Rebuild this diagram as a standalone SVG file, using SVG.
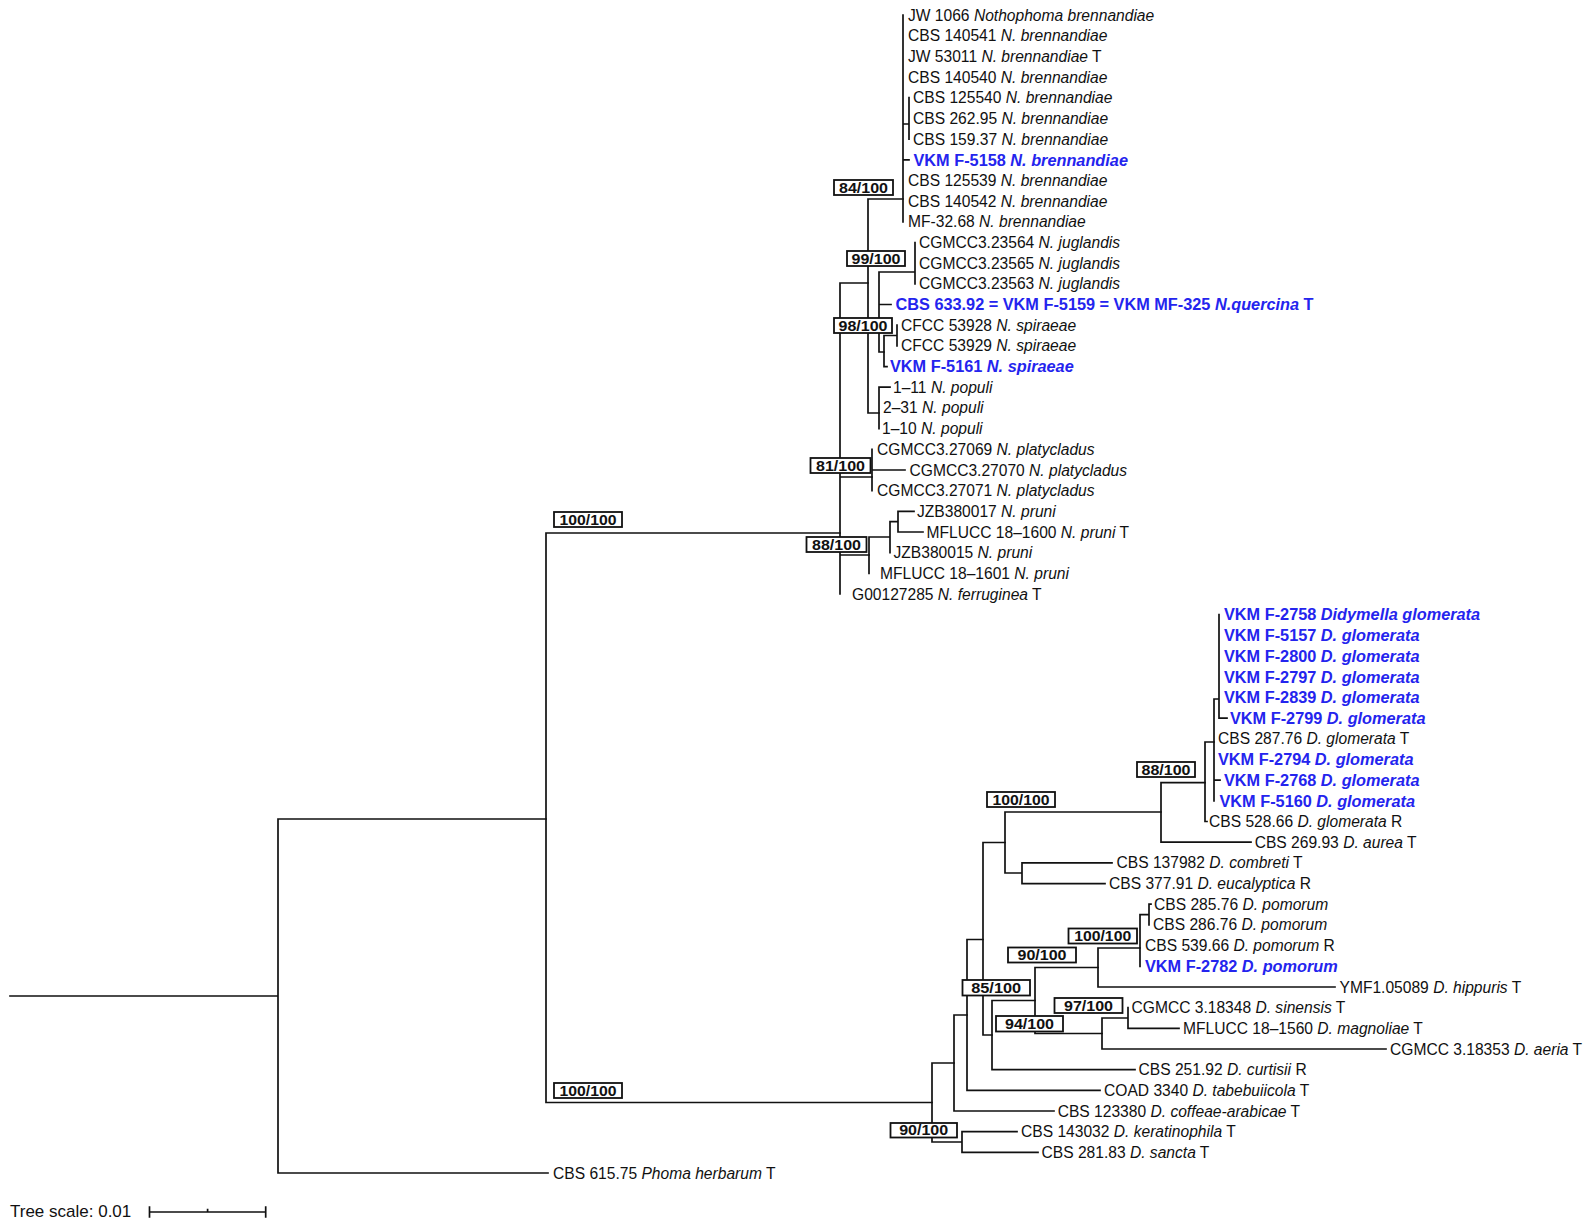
<svg xmlns="http://www.w3.org/2000/svg" width="1584" height="1227" viewBox="0 0 1584 1227">
<style>
.e{stroke:#111;stroke-width:1.7;fill:none;stroke-linecap:square}
.t{font-family:"Liberation Sans",Arial,sans-serif;font-size:15.6px;fill:#111}
.b{font-family:"Liberation Sans",Arial,sans-serif;font-size:16.3px;font-weight:bold;fill:#2424ee}
.i{font-style:italic}
.bx rect{fill:#fff;stroke:#111;stroke-width:1.8}
.bx text{font-family:"Liberation Sans",Arial,sans-serif;font-size:14px;font-weight:bold;fill:#111;text-anchor:middle}
.sc{font-family:"Liberation Sans",Arial,sans-serif;font-size:17px;fill:#111}
</style>
<rect width="1584" height="1227" fill="#fff"/>
<g id="connectors">
<path class="e" d="M10 996H278M278 819V1173M278 819H546M278 1173H548"/>
<path class="e" d="M546 533V1102.5M546 533H840M546 1102.5H932"/>
<path class="e" d="M840 283V594M840 283H868M840 477H872M840 555H869"/>
<path class="e" d="M868 199V413M868 199H903M868 326H879M868 413H879"/>
<path class="e" d="M903 15V221.8M903 124H909M909 97.7V139.1M903 159.8H909"/>
<path class="e" d="M879 272V352M879 272H915M879 304.5H891M879 352H884M915 242.5V283.8"/>
<path class="e" d="M884 335.5V366.6M884 335.5H897M897 325.2V345.9M884 366.6H887"/>
<path class="e" d="M879 387.2V428.6M879 387.2H890"/>
<path class="e" d="M872 449.3V490.6M872 470H905"/>
<path class="e" d="M869 537V573.4M869 537H890M890 521.6V552.7M890 521.6H898M898 511.3V532M898 511.3H914M898 532H923"/>
<path class="e" d="M932 1063V1142M932 1063H954M932 1142H962M962 1131.7V1152.4M962 1131.7H1017M962 1152.4H1038"/>
<path class="e" d="M954 1015V1111M954 1015H967M954 1111H1054"/>
<path class="e" d="M967 939.5V1090.4M967 939.5H983M967 1090.4H1100"/>
<path class="e" d="M983 842.5V1035M983 842.5H1005M983 1035H992"/>
<path class="e" d="M1005 812V873M1005 812H1161M1005 873H1022M1022 862.9V883.6M1022 862.9H1112M1022 883.6H1105"/>
<path class="e" d="M1161 782.7V842.2M1161 782.7H1205M1161 842.2H1251"/>
<path class="e" d="M1205 742V821.5M1205 742H1214M1205 821.5H1207"/>
<path class="e" d="M1214 699V800.8M1214 699H1219M1214 780.2H1220M1219 614.7V718.1M1219 718.1H1227"/>
<path class="e" d="M992 1000.5V1069.7M992 1000.5H1035M992 1069.7H1135"/>
<path class="e" d="M1035 967.5V1033.5M1035 967.5H1098M1035 1033.5H1102"/>
<path class="e" d="M1098 948V987M1098 948H1140M1098 987H1335"/>
<path class="e" d="M1140 914.6V966.3M1140 914.6H1149M1149 904.2V924.9M1149 904.2H1151"/>
<path class="e" d="M1102 1018V1049M1102 1018H1128M1102 1049H1386M1128 1007.6V1028.3M1128 1028.3H1179"/>
</g>
<g id="leaves">
<g id="n0"><text class="t" x="908" y="20.5">JW 1066 <tspan class="i">Nothophoma brennandiae</tspan></text></g>
<g id="n1"><text class="t" x="908" y="41.2">CBS 140541 <tspan class="i">N. brennandiae</tspan></text></g>
<g id="n2"><text class="t" x="908" y="61.9">JW 53011 <tspan class="i">N. brennandiae</tspan> T</text></g>
<g id="n3"><text class="t" x="908" y="82.5">CBS 140540 <tspan class="i">N. brennandiae</tspan></text></g>
<g id="n4"><text class="t" x="913" y="103.2">CBS 125540 <tspan class="i">N. brennandiae</tspan></text></g>
<g id="n5"><text class="t" x="913" y="123.9">CBS 262.95 <tspan class="i">N. brennandiae</tspan></text></g>
<g id="n6"><text class="t" x="913" y="144.6">CBS 159.37 <tspan class="i">N. brennandiae</tspan></text></g>
<g id="n7"><text class="b" x="913.5" y="165.5">VKM F-5158 <tspan class="i">N. brennandiae</tspan></text></g>
<g id="n8"><text class="t" x="908" y="185.9">CBS 125539 <tspan class="i">N. brennandiae</tspan></text></g>
<g id="n9"><text class="t" x="908" y="206.6">CBS 140542 <tspan class="i">N. brennandiae</tspan></text></g>
<g id="n10"><text class="t" x="908" y="227.3">MF-32.68 <tspan class="i">N. brennandiae</tspan></text></g>
<g id="n11"><text class="t" x="919" y="248">CGMCC3.23564 <tspan class="i">N. juglandis</tspan></text></g>
<g id="n12"><text class="t" x="919" y="268.7">CGMCC3.23565 <tspan class="i">N. juglandis</tspan></text></g>
<g id="n13"><text class="t" x="919" y="289.3">CGMCC3.23563 <tspan class="i">N. juglandis</tspan></text></g>
<g id="n14"><text class="b" x="895.5" y="310.2">CBS 633.92 = VKM F-5159 = VKM MF-325 <tspan class="i">N.quercina</tspan> T</text></g>
<g id="n15"><text class="t" x="901" y="330.7">CFCC 53928 <tspan class="i">N. spiraeae</tspan></text></g>
<g id="n16"><text class="t" x="901" y="351.4">CFCC 53929 <tspan class="i">N. spiraeae</tspan></text></g>
<g id="n17"><text class="b" x="890" y="372.3">VKM F-5161 <tspan class="i">N. spiraeae</tspan></text></g>
<g id="n18"><text class="t" x="893" y="392.7">1–11 <tspan class="i">N. populi</tspan></text></g>
<g id="n19"><text class="t" x="883" y="413.4">2–31 <tspan class="i">N. populi</tspan></text></g>
<g id="n20"><text class="t" x="882" y="434.1">1–10 <tspan class="i">N. populi</tspan></text></g>
<g id="n21"><text class="t" x="877" y="454.8">CGMCC3.27069 <tspan class="i">N. platycladus</tspan></text></g>
<g id="n22"><text class="t" x="909.5" y="475.5">CGMCC3.27070 <tspan class="i">N. platycladus</tspan></text></g>
<g id="n23"><text class="t" x="877" y="496.1">CGMCC3.27071 <tspan class="i">N. platycladus</tspan></text></g>
<g id="n24"><text class="t" x="917" y="516.8">JZB380017 <tspan class="i">N. pruni</tspan></text></g>
<g id="n25"><text class="t" x="926.5" y="537.5">MFLUCC 18–1600 <tspan class="i">N. pruni</tspan> T</text></g>
<g id="n26"><text class="t" x="893.5" y="558.2">JZB380015 <tspan class="i">N. pruni</tspan></text></g>
<g id="n27"><text class="t" x="880" y="578.9">MFLUCC 18–1601 <tspan class="i">N. pruni</tspan></text></g>
<g id="n28"><text class="t" x="852" y="599.5">G00127285 <tspan class="i">N. ferruginea</tspan> T</text></g>
<g id="n29"><text class="b" x="1224" y="620.4">VKM F-2758 <tspan class="i">Didymella glomerata</tspan></text></g>
<g id="n30"><text class="b" x="1224" y="641.1">VKM F-5157 <tspan class="i">D. glomerata</tspan></text></g>
<g id="n31"><text class="b" x="1224" y="661.8">VKM F-2800 <tspan class="i">D. glomerata</tspan></text></g>
<g id="n32"><text class="b" x="1224" y="682.5">VKM F-2797 <tspan class="i">D. glomerata</tspan></text></g>
<g id="n33"><text class="b" x="1224" y="703.1">VKM F-2839 <tspan class="i">D. glomerata</tspan></text></g>
<g id="n34"><text class="b" x="1230" y="723.8">VKM F-2799 <tspan class="i">D. glomerata</tspan></text></g>
<g id="n35"><text class="t" x="1218" y="744.3">CBS 287.76 <tspan class="i">D. glomerata</tspan> T</text></g>
<g id="n36"><text class="b" x="1218" y="765.2">VKM F-2794 <tspan class="i">D. glomerata</tspan></text></g>
<g id="n37"><text class="b" x="1224" y="785.9">VKM F-2768 <tspan class="i">D. glomerata</tspan></text></g>
<g id="n38"><text class="b" x="1219.5" y="806.5">VKM F-5160 <tspan class="i">D. glomerata</tspan></text></g>
<g id="n39"><text class="t" x="1209" y="827">CBS 528.66 <tspan class="i">D. glomerata</tspan> R</text></g>
<g id="n40"><text class="t" x="1254.7" y="847.7">CBS 269.93 <tspan class="i">D. aurea</tspan> T</text></g>
<g id="n41"><text class="t" x="1116.5" y="868.4">CBS 137982 <tspan class="i">D. combreti</tspan> T</text></g>
<g id="n42"><text class="t" x="1109" y="889.1">CBS 377.91 <tspan class="i">D. eucalyptica</tspan> R</text></g>
<g id="n43"><text class="t" x="1154" y="909.7">CBS 285.76 <tspan class="i">D. pomorum</tspan></text></g>
<g id="n44"><text class="t" x="1153" y="930.4">CBS 286.76 <tspan class="i">D. pomorum</tspan></text></g>
<g id="n45"><text class="t" x="1145" y="951.1">CBS 539.66 <tspan class="i">D. pomorum</tspan> R</text></g>
<g id="n46"><text class="b" x="1145" y="972">VKM F-2782 <tspan class="i">D. pomorum</tspan></text></g>
<g id="n47"><text class="t" x="1339.5" y="992.5">YMF1.05089 <tspan class="i">D. hippuris</tspan> T</text></g>
<g id="n48"><text class="t" x="1131.5" y="1013.1">CGMCC 3.18348 <tspan class="i">D. sinensis</tspan> T</text></g>
<g id="n49"><text class="t" x="1183" y="1033.8">MFLUCC 18–1560 <tspan class="i">D. magnoliae</tspan> T</text></g>
<g id="n50"><text class="t" x="1390" y="1054.5">CGMCC 3.18353 <tspan class="i">D. aeria</tspan> T</text></g>
<g id="n51"><text class="t" x="1138.5" y="1075.2">CBS 251.92 <tspan class="i">D. curtisii</tspan> R</text></g>
<g id="n52"><text class="t" x="1104" y="1095.9">COAD 3340 <tspan class="i">D. tabebuiicola</tspan> T</text></g>
<g id="n53"><text class="t" x="1057.7" y="1116.5">CBS 123380 <tspan class="i">D. coffeae-arabicae</tspan> T</text></g>
<g id="n54"><text class="t" x="1021" y="1137.2">CBS 143032 <tspan class="i">D. keratinophila</tspan> T</text></g>
<g id="n55"><text class="t" x="1041.5" y="1157.9">CBS 281.83 <tspan class="i">D. sancta</tspan> T</text></g>
<g id="n56"><text class="t" x="553" y="1178.6">CBS 615.75 <tspan class="i">Phoma herbarum</tspan> T</text></g>
</g>
<g id="support">
<g id="s1" class="bx"><rect x="834" y="180" width="59" height="15"/><text x="863.5" y="192.5" textLength="49" lengthAdjust="spacingAndGlyphs">84/100</text></g>
<g id="s2" class="bx"><rect x="847" y="251" width="58" height="15"/><text x="876" y="263.5" textLength="49" lengthAdjust="spacingAndGlyphs">99/100</text></g>
<g id="s3" class="bx"><rect x="834" y="318" width="58" height="15"/><text x="863" y="330.5" textLength="49" lengthAdjust="spacingAndGlyphs">98/100</text></g>
<g id="s4" class="bx"><rect x="810.5" y="458" width="60" height="15"/><text x="840.5" y="470.5" textLength="49" lengthAdjust="spacingAndGlyphs">81/100</text></g>
<g id="s5" class="bx"><rect x="806.5" y="537" width="60" height="15"/><text x="836.5" y="549.5" textLength="49" lengthAdjust="spacingAndGlyphs">88/100</text></g>
<g id="s6" class="bx"><rect x="554" y="512" width="68" height="15"/><text x="588" y="524.5" textLength="57" lengthAdjust="spacingAndGlyphs">100/100</text></g>
<g id="s7" class="bx"><rect x="1137" y="762" width="58" height="15"/><text x="1166" y="774.5" textLength="49" lengthAdjust="spacingAndGlyphs">88/100</text></g>
<g id="s8" class="bx"><rect x="987" y="792" width="68" height="15"/><text x="1021" y="804.5" textLength="57" lengthAdjust="spacingAndGlyphs">100/100</text></g>
<g id="s9" class="bx"><rect x="1068.5" y="928.5" width="68.5" height="15"/><text x="1102.7" y="941" textLength="57" lengthAdjust="spacingAndGlyphs">100/100</text></g>
<g id="s10" class="bx"><rect x="1008" y="947.5" width="68" height="15"/><text x="1042" y="960" textLength="49" lengthAdjust="spacingAndGlyphs">90/100</text></g>
<g id="s11" class="bx"><rect x="962.5" y="980" width="67.5" height="15.5"/><text x="996.2" y="992.7" textLength="50" lengthAdjust="spacingAndGlyphs">85/100</text></g>
<g id="s12" class="bx"><rect x="1054.5" y="998" width="68" height="15"/><text x="1088.5" y="1010.5" textLength="49" lengthAdjust="spacingAndGlyphs">97/100</text></g>
<g id="s13" class="bx"><rect x="996" y="1016" width="67" height="15.5"/><text x="1029.5" y="1028.7" textLength="49" lengthAdjust="spacingAndGlyphs">94/100</text></g>
<g id="s14" class="bx"><rect x="554" y="1083" width="68" height="15"/><text x="588" y="1095.5" textLength="57" lengthAdjust="spacingAndGlyphs">100/100</text></g>
<g id="s15" class="bx"><rect x="890.5" y="1123" width="66.5" height="14.5"/><text x="923.7" y="1135.3" textLength="49" lengthAdjust="spacingAndGlyphs">90/100</text></g>
</g>
<g id="scale">
<text class="sc" x="10" y="1217">Tree scale: 0.01</text>
<path class="e" d="M149.5 1212H265.7M149.5 1207V1217M265.7 1207V1217M207.6 1209.5V1212"/>
</g>
</svg>
